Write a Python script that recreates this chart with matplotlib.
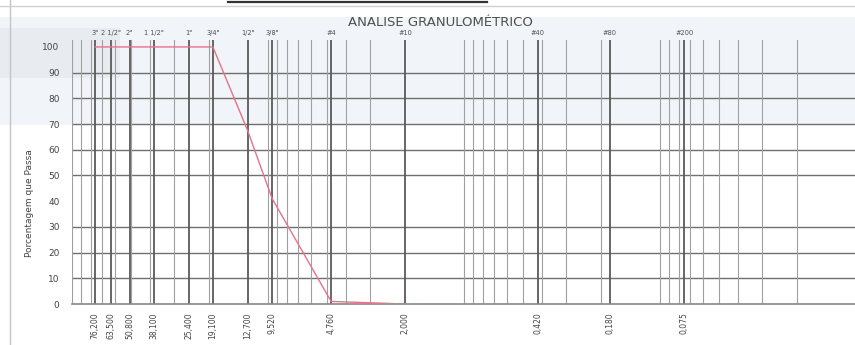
import matplotlib
matplotlib.use("Agg")
import matplotlib.pyplot as plt
from matplotlib.ticker import FixedLocator, LogLocator, NullFormatter
from matplotlib.transforms import blended_transform_factory
from matplotlib.patches import Rectangle
from matplotlib.lines import Line2D

# Sieve series (opening in mm) and their names
sieve_mm = [76.2, 63.5, 50.8, 38.1, 25.4, 19.1, 12.7, 9.52, 4.76, 2.0, 0.42, 0.18, 0.075]
sieve_names = ['3"', '2 1/2"', '2"', '1 1/2"', '1"', '3/4"', '1/2"', '3/8"',
               '#4', '#10', '#40', '#80', '#200']
sieve_labels = ['76,200', '63,500', '50,800', '38,100', '25,400', '19,100', '12,700',
                '9,520', '4,760', '2,000', '0,420', '0,180', '0,075']

# Percentage passing for the tested sieves
tested_mm = [76.2, 63.5, 50.8, 38.1, 25.4, 19.1, 12.7, 9.52, 4.76, 2.0]
passing = [100, 100, 100, 100, 100, 100, 67.5, 41, 1, 0]

y_ticks = [0, 10, 20, 30, 40, 50, 60, 70, 80, 90, 100]
h_grid = [10, 20, 30, 50, 60, 70, 80, 90]

W, H = 855, 345
fig = plt.figure(figsize=(W / 100, H / 100), dpi=100)
fig.patch.set_facecolor("white")

# light tinted band behind the upper part of the sheet
fig.add_artist(Rectangle((0, 1 - 125 / H), 1, 108 / H, transform=fig.transFigure,
                         facecolor="#f1f4f8", edgecolor="none", zorder=0))
fig.add_artist(Rectangle((0, 1 - 78 / H), 120 / W, 50 / H, transform=fig.transFigure,
                         facecolor="#e8ecf0", edgecolor="none", zorder=0))

# sheet frame lines
fig.add_artist(Line2D([10 / W, 10 / W], [0, 1], transform=fig.transFigure,
                      color="#c4c4c4", lw=1.0))
fig.add_artist(Line2D([0, 1], [1 - 6 / H, 1 - 6 / H], transform=fig.transFigure,
                      color="#d0d0d0", lw=1.0))
fig.add_artist(Line2D([228 / W, 487 / W], [1 - 2 / H, 1 - 2 / H], transform=fig.transFigure,
                      color="#333333", lw=1.6))

left, right = 72 / W, 1.0
bottom, top = (H - 304) / H, (H - 40) / H
ax = fig.add_axes([left, bottom, right - left, top - bottom])
ax.set_facecolor("none")

ax.set_xscale("log")
ax.set_xlim(100, 0.0101)
ax.set_ylim(0, 102.7)

# sieve lines (major) and logarithmic subdivisions (minor)
ax.xaxis.set_major_locator(FixedLocator(sieve_mm))
ax.set_xticklabels(sieve_labels, rotation=90, fontsize=5.5, color="#444444")
ax.xaxis.set_minor_locator(LogLocator(base=10, subs=range(1, 10), numticks=20))
ax.xaxis.set_minor_formatter(NullFormatter())
ax.tick_params(axis="x", which="both", length=0, pad=6)
ax.grid(which="minor", axis="x", color="#a0a0a0", lw=0.8)
ax.grid(which="major", axis="x", color="#5a5a5a", lw=1.3)

ax.set_yticks(y_ticks)
ax.tick_params(axis="y", length=0, pad=9, labelsize=6.5, labelcolor="#444444")
for lvl in h_grid:
    ax.axhline(lvl, color="#707070", lw=1.0, zorder=1)

for s in ["top", "right", "left"]:
    ax.spines[s].set_visible(False)
ax.spines["bottom"].set_color("#888888")
ax.spines["bottom"].set_linewidth(1.2)

# grading curve
ax.plot(tested_mm, passing, color="#e27588", lw=1.0, zorder=3)

# sieve names above the grid
tr = blended_transform_factory(ax.transData, fig.transFigure)
for d, name in zip(sieve_mm, sieve_names):
    ax.text(d, 1 - 33 / H, name, transform=tr, ha="center", va="center",
            fontsize=4.8, color="#505050")

fig.text(440 / W, 1 - 23 / H, "ANALISE GRANULOMÉTRICO", ha="center", va="center",
         fontsize=9.5, color="#505050")
fig.text(30 / W, 1 - 203 / H, "Porcentagem que Passa", rotation=90,
         ha="center", va="center", fontsize=6.5, color="#444444")

fig.savefig("out.png", dpi=100)
